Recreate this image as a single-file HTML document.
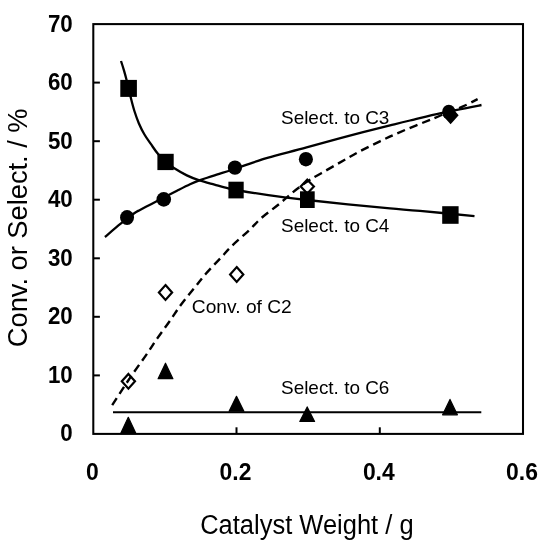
<!DOCTYPE html>
<html>
<head>
<meta charset="utf-8">
<title>Chart</title>
<style>
html,body{margin:0;padding:0;background:#fff;}
body{width:543px;height:550px;overflow:hidden;}
svg{display:block;filter:blur(0.4px);}
text{font-family:"Liberation Sans",sans-serif;fill:#000;}
.tk{font-weight:bold;font-size:24px;}
.ti{font-size:27px;}
.an{font-size:19px;}
</style>
</head>
<body>
<svg width="543" height="550" viewBox="0 0 543 550">
<rect x="0" y="0" width="543" height="550" fill="#fff"/>

<g fill="#fff" stroke="#000" stroke-width="2.2" stroke-linejoin="miter">
<path d="M128.4,373.9 L135.0,381.3 L128.4,388.7 L121.8,381.3 Z"/>
<path d="M165.5,285.1 L172.1,292.5 L165.5,299.9 L158.9,292.5 Z"/>
<path d="M236.7,267.1 L243.3,274.5 L236.7,281.9 L230.1,274.5 Z"/>
<path d="M307.3,179.7 L313.9,186.6 L307.3,193.5 L300.7,186.6 Z"/>
<path d="M450.6,107.9 L457.2,115.3 L450.6,122.7 L444.0,115.3 Z" fill="#000"/>
</g>
<g fill="none" stroke="#000" stroke-width="2.3" stroke-linecap="butt">
<path d="M121.0,61.0 C121.5,62.5 122.9,66.8 123.8,69.9 C124.7,73.0 125.3,75.0 126.5,79.8 C127.7,84.6 129.7,93.3 131.0,98.5 C132.3,103.7 133.1,106.9 134.4,111.0 C135.7,115.1 137.2,119.3 138.8,123.2 C140.5,127.1 142.3,130.8 144.3,134.3 C146.3,137.8 148.7,140.9 151.0,144.2 C153.3,147.5 155.6,151.1 158.1,154.1 C160.6,157.1 163.2,159.6 165.8,161.9 C168.4,164.2 170.4,165.8 173.9,168.0 C177.4,170.2 182.6,173.3 186.8,175.4 C191.1,177.5 194.8,178.9 199.4,180.4 C204.0,181.9 209.7,183.3 214.5,184.6 C219.3,185.9 224.7,187.4 228.3,188.3 C231.9,189.2 229.6,188.8 236.3,190.0 C243.0,191.2 256.5,193.5 268.3,195.2 C280.1,196.9 293.9,198.5 307.2,200.0 C320.5,201.5 334.1,202.9 347.9,204.3 C361.7,205.7 378.0,207.3 390.0,208.4 C402.0,209.5 405.9,209.6 420.0,210.9 C434.1,212.2 465.4,215.2 474.5,216.1"/>
<path d="M104.9,237.0 C107.5,234.8 115.9,227.6 120.7,223.7 C125.5,219.8 130.7,215.8 133.9,213.5 C137.1,211.2 137.0,211.5 140.0,209.9 C143.0,208.3 148.0,205.8 152.0,203.7 C156.0,201.6 159.8,199.7 164.0,197.5 C168.2,195.3 172.7,193.0 177.0,190.8 C181.3,188.6 186.3,186.0 190.0,184.3 C193.7,182.6 195.5,181.8 199.3,180.4 C203.1,179.0 207.9,177.6 213.0,175.9 C218.1,174.2 224.8,172.2 230.0,170.5 C235.2,168.8 239.3,167.3 244.0,165.7 C248.7,164.1 253.9,162.2 258.0,160.9 C262.1,159.6 260.2,159.8 268.3,157.6 C276.4,155.3 293.3,151.0 306.6,147.4 C319.9,143.8 334.0,139.9 347.9,136.2 C361.8,132.5 379.6,128.0 390.0,125.4 C400.4,122.8 401.5,122.5 410.0,120.5 C418.5,118.5 429.1,115.7 441.0,113.1 C452.9,110.5 474.8,106.3 481.5,105.0"/>
<path d="M112.2,405.2 C114.0,402.4 119.6,393.6 123.2,388.1 C126.8,382.6 129.9,378.0 134.0,372.1 C138.1,366.2 143.7,358.6 147.5,353.0 C151.3,347.4 153.4,343.9 157.1,338.6 C160.8,333.3 165.9,326.5 169.8,321.0 C173.7,315.5 176.4,310.9 180.4,305.5 C184.4,300.1 189.6,293.8 193.8,288.6 C198.0,283.4 201.0,279.4 205.4,274.3 C209.8,269.2 215.8,263.1 220.3,258.3 C224.8,253.5 227.5,250.2 232.3,245.5 C237.1,240.8 244.5,234.7 249.3,230.1 C254.2,225.5 256.4,222.3 261.4,218.0 C266.3,213.7 273.8,208.4 279.0,204.2 C284.2,199.9 287.8,196.4 292.6,192.5 C297.5,188.6 302.5,184.7 308.1,181.0 C313.7,177.3 319.9,174.0 326.0,170.5 C332.1,167.0 339.0,163.1 344.8,159.8 C350.6,156.5 355.1,153.8 361.0,150.7 C366.9,147.6 374.4,144.0 380.4,141.1 C386.4,138.2 391.0,136.0 397.0,133.4 C403.0,130.8 410.2,127.8 416.4,125.3 C422.6,122.8 428.7,120.5 434.3,118.2 C439.9,115.9 445.3,113.3 450.0,111.4 C454.7,109.5 457.9,108.8 462.5,106.7 C467.1,104.7 475.1,100.4 477.6,99.1" stroke-dasharray="8.45 4.92" stroke-width="2.4"/>
<path d="M113,412.3 L481.3,412.3" stroke-width="2.1"/>
</g>
<rect x="93.3" y="24.1" width="429.7" height="409.8" fill="none" stroke="#000" stroke-width="2.05"/>
<g stroke="#000" stroke-width="2.0">
<line x1="93.3" y1="375.4" x2="99.9" y2="375.4"/>
<line x1="93.3" y1="316.8" x2="99.9" y2="316.8"/>
<line x1="93.3" y1="258.3" x2="99.9" y2="258.3"/>
<line x1="93.3" y1="199.7" x2="99.9" y2="199.7"/>
<line x1="93.3" y1="141.2" x2="99.9" y2="141.2"/>
<line x1="93.3" y1="82.6" x2="99.9" y2="82.6"/>
<line x1="236.5" y1="433.9" x2="236.5" y2="427.3"/>
<line x1="379.8" y1="433.9" x2="379.8" y2="427.3"/>
</g>
<g fill="#000">
<rect x="120.30" y="79.90" width="16.60" height="17.00"/>
<rect x="157.40" y="153.80" width="16.30" height="16.30"/>
<rect x="228.40" y="181.70" width="15.30" height="16.70"/>
<rect x="300.00" y="191.30" width="14.70" height="16.70"/>
<rect x="442.20" y="206.20" width="16.40" height="17.60"/>
<ellipse cx="127.05" cy="217.50" rx="7.00" ry="7.45"/>
<ellipse cx="163.75" cy="199.40" rx="7.30" ry="7.35"/>
<ellipse cx="234.95" cy="167.65" rx="7.10" ry="7.15"/>
<ellipse cx="305.90" cy="159.20" rx="7.05" ry="7.25"/>
<ellipse cx="448.80" cy="112.00" rx="6.65" ry="7.25"/>
</g>
<g fill="#000" stroke="#000" stroke-width="1.2" stroke-linejoin="round">
<path d="M128.3,417.3 L135.7,433.1 L120.9,433.1 Z"/>
<path d="M165.5,363.2 L172.9,378.7 L158.1,378.7 Z"/>
<path d="M236.5,396.3 L243.9,411.2 L229.1,411.2 Z"/>
<path d="M307.2,406.9 L314.6,421.4 L299.8,421.4 Z"/>
<path d="M450.0,399.4 L457.4,414.8 L442.6,414.8 Z"/>
</g>
<text class="tk" transform="translate(72.7,441.4) scale(0.93,1)" text-anchor="end">0</text>
<text class="tk" transform="translate(72.7,382.9) scale(0.93,1)" text-anchor="end">10</text>
<text class="tk" transform="translate(72.7,324.3) scale(0.93,1)" text-anchor="end">20</text>
<text class="tk" transform="translate(72.7,265.8) scale(0.93,1)" text-anchor="end">30</text>
<text class="tk" transform="translate(72.7,207.2) scale(0.93,1)" text-anchor="end">40</text>
<text class="tk" transform="translate(72.7,148.7) scale(0.93,1)" text-anchor="end">50</text>
<text class="tk" transform="translate(72.7,90.1) scale(0.93,1)" text-anchor="end">60</text>
<text class="tk" transform="translate(72.7,31.6) scale(0.93,1)" text-anchor="end">70</text>
<text class="tk" transform="translate(92.3,480.0) scale(0.955,1)" text-anchor="middle">0</text>
<text class="tk" transform="translate(235.5,480.0) scale(0.955,1)" text-anchor="middle">0.2</text>
<text class="tk" transform="translate(378.8,480.0) scale(0.955,1)" text-anchor="middle">0.4</text>
<text class="tk" transform="translate(522.0,480.0) scale(0.955,1)" text-anchor="middle">0.6</text>
<text class="ti"  x="200.2" y="533.6" textLength="213.4" lengthAdjust="spacingAndGlyphs">Catalyst Weight / g</text>
<text class="ti" transform="translate(26.5,347.2) rotate(-90)" textLength="238.8" lengthAdjust="spacingAndGlyphs">Conv. or Select. / %</text>
<text class="an" x="281.0" y="124.0" textLength="108.4" lengthAdjust="spacingAndGlyphs">Select. to C3</text>
<text class="an" x="281.0" y="231.6" textLength="108.4" lengthAdjust="spacingAndGlyphs">Select. to C4</text>
<text class="an" x="191.8" y="312.9" textLength="100.0" lengthAdjust="spacingAndGlyphs">Conv. of C2</text>
<text class="an" x="281.0" y="393.7" textLength="108.4" lengthAdjust="spacingAndGlyphs">Select. to C6</text>
</svg>
</body>
</html>
